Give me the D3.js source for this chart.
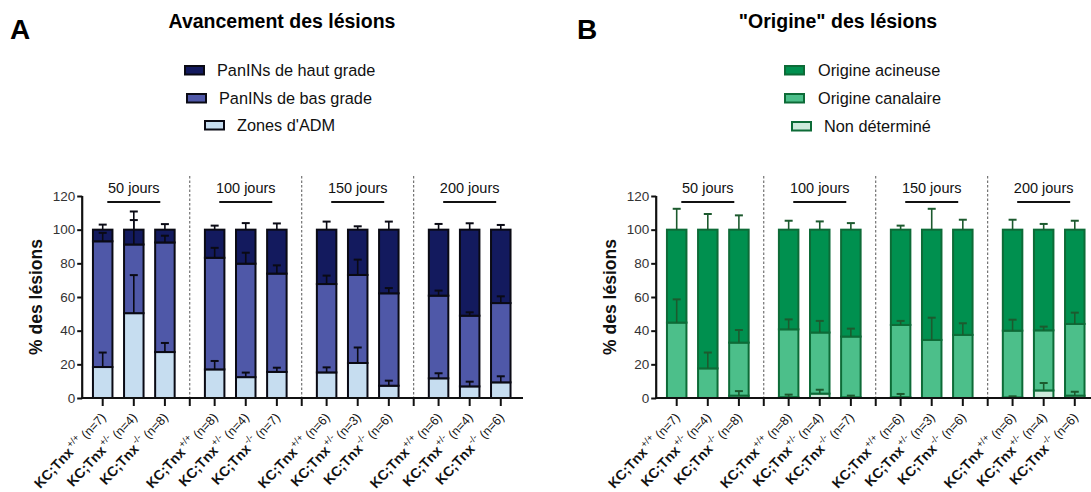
<!DOCTYPE html>
<html><head><meta charset="utf-8">
<script src="https://cdn.jsdelivr.net/npm/d3@7"></script>
<style>body{margin:0;background:#fff}svg{display:block;font-family:Arial,"Liberation Sans",sans-serif}</style>
</head><body><svg id="c" width="1091" height="492"></svg>
<script>
// ---------- data ----------
const groups = ["50 jours", "100 jours", "150 jours", "200 jours"];
const genotypes = ["+/+", "+/-", "-/-"];
const nA = ["7","4","8","8","4","7","6","3","6","6","4","6"];
const nB = ["7","4","8","8","4","7","6","3","6","6","4","6"];
const yTicks = [0, 20, 40, 60, 80, 100, 120];

// Panel A (segment values, bottom -> top) and SD
const admMean  = [18.4, 50.4, 27.3, 17.0, 12.4, 15.5, 15.2, 20.8, 7.3, 11.7, 6.9, 9.3];
const admSD    = [8.6, 22.6, 5.4, 5.0, 2.7, 2.5, 3.0, 9.2, 3.0, 3.0, 2.8, 3.6];
const basMean  = [74.7, 40.8, 65.1, 66.3, 67.4, 58.4, 52.5, 52.3, 54.9, 49.1, 42.0, 47.1];
const basSD    = [5.0, 14.5, 4.0, 5.9, 6.5, 4.9, 5.0, 9.1, 3.1, 3.0, 2.0, 4.0];
const hautMean = [6.9, 8.8, 7.6, 16.7, 20.2, 26.1, 32.3, 26.9, 37.8, 39.2, 51.1, 43.6];
const hautSD   = [3.0, 10.8, 3.3, 2.4, 3.9, 3.7, 4.8, 2.0, 4.8, 3.4, 3.8, 2.8];

// Panel B (segment values, bottom -> top) and SD
const ndMean   = [0.0, 0.0, 1.4, 0.5, 2.6, 0.4, 0.5, 0.0, 0.0, 0.3, 4.5, 1.4];
const ndSD     = [0.0, 0.0, 2.7, 1.5, 2.3, 1.0, 1.9, 0.0, 0.0, 0.7, 4.4, 2.3];
const canMean  = [44.8, 17.6, 31.5, 40.3, 36.3, 36.1, 42.9, 34.5, 37.5, 39.7, 35.7, 42.6];
const canSD    = [13.8, 9.4, 7.5, 5.9, 6.9, 4.7, 2.4, 13.2, 6.9, 6.5, 2.2, 6.7];
const acinMean = [55.2, 82.4, 67.1, 59.2, 61.1, 63.5, 56.6, 65.5, 62.5, 60.0, 59.8, 56.0];
const acinSD   = [12.4, 9.3, 8.5, 5.3, 4.9, 3.9, 2.4, 12.4, 5.9, 5.9, 3.4, 5.3];

const svg = d3.select("#c");

function panel(o) {
  const g = svg.append("g");
  const pos = (gi, i) => gi * 3.6 + i;
  const x = d3.scaleLinear().domain([0, 1]).range([o.x0, o.x0 + 31.1]);
  const y = d3.scaleLinear().domain([0, 120]).range([398, 196]);
  const bw = 19.5;

  // letter + title
  g.append("text").attr("x", o.letterX).attr("y", 39).attr("font-size", 28).attr("font-weight", "bold").text(o.letter);
  g.append("text").attr("x", o.titleX).attr("y", 28).attr("font-size", 19.5).attr("font-weight", "bold").attr("text-anchor", "middle").text(o.title);

  // legend (top series first)
  o.legend.forEach((L, k) => {
    const s = o.series[o.series.length - 1 - k];
    g.append("rect").attr("x", L.sx).attr("y", L.sy).attr("width", 19).attr("height", 8.5)
      .attr("fill", s.color).attr("stroke", o.stroke).attr("stroke-width", 2);
    g.append("text").attr("x", L.tx).attr("y", L.sy + 10).attr("font-size", 16.3).attr("fill", "#111").text(s.name);
  });

  // separators
  for (let gi = 0; gi < 3; gi++) {
    const sx = x(pos(gi, 2) + 0.8);
    g.append("line").attr("x1", sx).attr("x2", sx).attr("y1", 176).attr("y2", 398)
      .attr("stroke", "#555").attr("stroke-width", 1).attr("stroke-dasharray", "2.5,2");
  }

  // group labels
  groups.forEach((name, gi) => {
    const cx = x(pos(gi, 1));
    g.append("text").attr("x", cx).attr("y", 193).attr("text-anchor", "middle").attr("font-size", 14.5).attr("fill", "#111").text(name);
    g.append("line").attr("x1", cx - 26.5).attr("x2", cx + 26.5).attr("y1", 202).attr("y2", 202).attr("stroke", "#111").attr("stroke-width", 2);
  });

  // bars
  for (let j = 0; j < 12; j++) {
    const gi = Math.floor(j / 3), i = j % 3;
    const cx = x(pos(gi, i));
    let base = 0;
    const tops = [];
    o.series.forEach(s => {
      const v = s.mean[j];
      const top = base + v;
      if (v > 0) {
        g.append("rect").attr("x", cx - bw / 2).attr("y", y(top)).attr("width", bw).attr("height", y(base) - y(top))
          .attr("fill", s.color).attr("stroke", o.stroke).attr("stroke-width", 2);
      }
      tops.push({ top, sd: s.sd[j] });
      base = top;
    });
    tops.forEach(t => {
      if (t.sd <= 0) return;
      g.append("line").attr("x1", cx).attr("x2", cx).attr("y1", y(t.top)).attr("y2", y(t.top + t.sd)).attr("stroke", o.err).attr("stroke-width", 1.6);
      g.append("line").attr("x1", cx - 4).attr("x2", cx + 4).attr("y1", y(t.top + t.sd)).attr("y2", y(t.top + t.sd)).attr("stroke", o.err).attr("stroke-width", 2);
    });
  }

  // y axis
  const ya = g.append("g").attr("transform", `translate(${o.x0 - 20.5},0)`)
    .call(d3.axisLeft(y).tickValues(yTicks).tickSize(5).tickPadding(2));
  ya.select(".domain").attr("stroke", "#111").attr("stroke-width", 2.2).attr("d", `M-0,${y(120)}V${y(0)}`);
  ya.selectAll(".tick line").attr("stroke", "#111").attr("stroke-width", 2);
  ya.selectAll(".tick text").attr("font-size", 13.5).attr("fill", "#333").attr("font-family", "Arial, Liberation Sans, sans-serif");

  // x axis
  const xa0 = o.x0 - 20.5, xa1 = o.xEnd;
  g.append("line").attr("x1", xa0 - 1).attr("x2", xa1).attr("y1", 398).attr("y2", 398).attr("stroke", "#111").attr("stroke-width", 2.2);
  const tickPos = [];
  for (let gi = 0; gi < 4; gi++) {
    for (let i = 0; i < 3; i++) tickPos.push(pos(gi, i));
    if (gi < 3) tickPos.push(pos(gi, 2) + 0.8);
  }
  tickPos.forEach(p => {
    g.append("line").attr("x1", x(p)).attr("x2", x(p)).attr("y1", 398).attr("y2", 406).attr("stroke", "#111").attr("stroke-width", 2);
  });

  // x labels
  for (let j = 0; j < 12; j++) {
    const gi = Math.floor(j / 3), i = j % 3;
    const cx = x(pos(gi, i));
    const t = g.append("text").attr("transform", `translate(${cx + 4},${418}) rotate(-47)`)
      .attr("text-anchor", "end").attr("font-size", 14).attr("fill", "#111");
    t.append("tspan").attr("font-weight", "bold").text("KC;Tnx");
    t.append("tspan").attr("font-size", 9.5).attr("dy", -6).attr("dx", 1).text(genotypes[i]);
    t.append("tspan").attr("dy", 6).attr("font-size", 12.5).text(" (n=" + o.n[j] + ")");
  }

  // y label
  g.append("text").attr("transform", `translate(${o.ylabX},${297}) rotate(-90)`).attr("text-anchor", "middle")
    .attr("font-size", 17.5).attr("font-weight", "bold").attr("fill", "#111").text("% des lésions");
}

panel({
  x0: 102.7, xEnd: 523, letter: "A", letterX: 10, title: "Avancement des lésions", titleX: 282,
  ylabX: 42, stroke: "#0a0a14", err: "#0a0a14", n: nA,
  series: [
    { name: "Zones d'ADM", mean: admMean, sd: admSD, color: "#c6ddf0" },
    { name: "PanINs de bas grade", mean: basMean, sd: basSD, color: "#4f58a8" },
    { name: "PanINs de haut grade", mean: hautMean, sd: hautSD, color: "#131a5e" }
  ],
  legend: [ { sx: 185, sy: 66, tx: 217 }, { sx: 187, sy: 94, tx: 219 }, { sx: 205, sy: 121, tx: 237 } ]
});

panel({
  x0: 676.7, xEnd: 1091, letter: "B", letterX: 577, title: "\"Origine\" des lésions", titleX: 838,
  ylabX: 616, stroke: "#0d6b37", err: "#1c5a2e", n: nB,
  series: [
    { name: "Non déterminé", mean: ndMean, sd: ndSD, color: "#cdeadb" },
    { name: "Origine canalaire", mean: canMean, sd: canSD, color: "#4cbf8a" },
    { name: "Origine acineuse", mean: acinMean, sd: acinSD, color: "#00904f" }
  ],
  legend: [ { sx: 785, sy: 66, tx: 818 }, { sx: 785, sy: 94, tx: 818 }, { sx: 792, sy: 122, tx: 824 } ]
});
</script></body></html>
